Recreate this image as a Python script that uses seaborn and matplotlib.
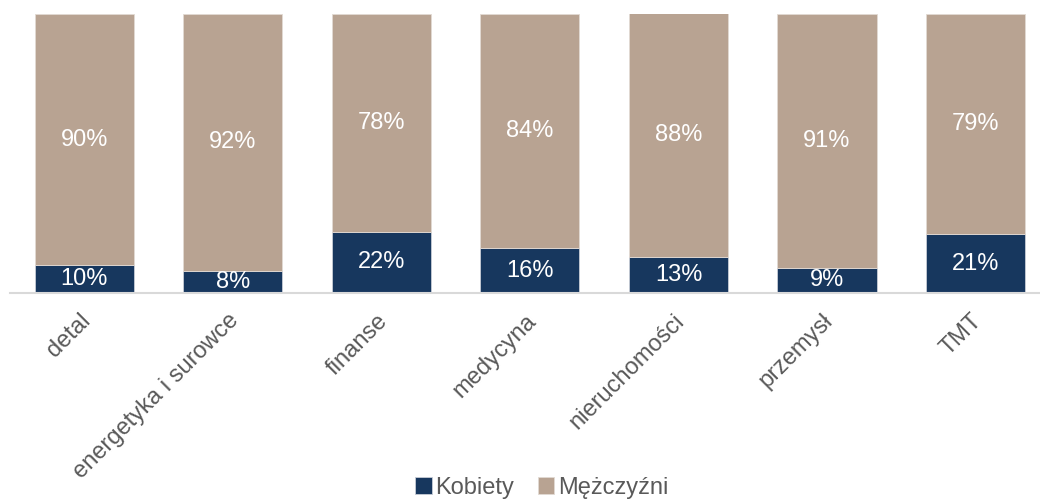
import pandas as pd
import matplotlib
matplotlib.use("Agg")
import matplotlib.pyplot as plt
import matplotlib.transforms as mtrans
import seaborn as sns

# dane: udział kobiet i mężczyzn w poszczególnych sektorach (%)
sektory = ["detal", "energetyka i surowce", "finanse", "medycyna",
           "nieruchomości", "przemysł", "TMT"]
kobiety = [10, 8, 22, 16, 13, 9, 21]
mezczyzni = [90, 92, 78, 84, 88, 91, 79]

kol_k = "#17375E"
kol_m = "#B8A392"
szary = "#595959"

sns.set_theme(style="white")
plt.rcParams["font.family"] = ["Liberation Sans", "DejaVu Sans"]

df = pd.DataFrame({"sektor": sektory, "Kobiety": kobiety, "Mężczyźni": mezczyzni})

fig = plt.figure(figsize=(10.4, 5.01), dpi=100)
ax = fig.add_axes([10 / 1040, 1 - 293 / 501, 1 - 10 / 1040, (293 - 14) / 501])

# słupki skumulowane: Kobiety na dole, Mężczyźni na górze
sns.barplot(data=df, x="sektor", y="Kobiety", color=kol_k, width=0.667, saturation=1,
            edgecolor="#C8CDD6", linewidth=0.6, ax=ax, label="Kobiety")
sns.barplot(data=df, x="sektor", y="Mężczyźni", color=kol_m, width=0.667, saturation=1,
            bottom=df["Kobiety"].values, edgecolor="#E2DAD3", linewidth=0.6,
            ax=ax, label="Mężczyźni")

for cont in ax.containers:
    ax.bar_label(cont, labels=[f"{v:.0f}%" for v in cont.datavalues],
                 label_type="center", color="white", fontsize=17)

ax.set_ylim(0, 100)
ax.set_xlim(-0.5, 6.434)
ax.set_xlabel("")
ax.set_ylabel("")
ax.set_yticks([])
for s in ["top", "right", "left"]:
    ax.spines[s].set_visible(False)
ax.spines["bottom"].set_color("#D9D9D9")
ax.spines["bottom"].set_linewidth(1.5)
ax.tick_params(axis="x", length=0, pad=12, labelsize=17, labelcolor=szary)
przesun = mtrans.ScaledTranslation(-5 / 100, 0, fig.dpi_scale_trans)
for lab in ax.get_xticklabels():
    lab.set_rotation(45)
    lab.set_ha("right")
    lab.set_rotation_mode("anchor")
    lab.set_transform(lab.get_transform() + przesun)

ax.legend(loc="center", bbox_to_anchor=(0.521, 13 / 501), bbox_transform=fig.transFigure,
          ncol=2, frameon=False, fontsize=17, labelcolor=szary, borderpad=0,
          handlelength=0.7, handleheight=0.7, handletextpad=0.15, columnspacing=1.0)

fig.savefig("out.png", dpi=100)
